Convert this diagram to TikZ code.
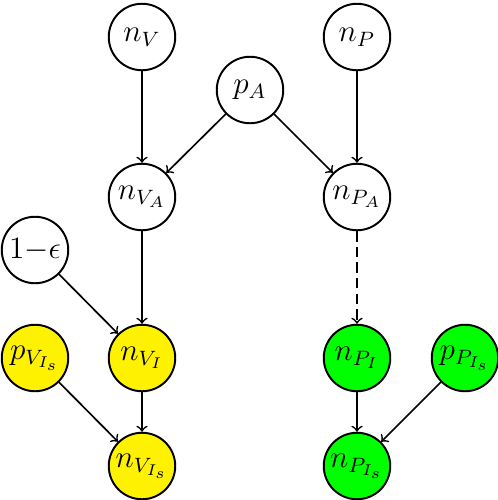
\documentclass[tikz,border=0pt]{standalone}
\begin{document}
\begin{tikzpicture}[x=0.385pt,y=-0.385pt,
  var/.style={circle,draw,line width=0.75pt,minimum size=25.6pt,inner sep=0pt,font=\large},
  yel/.style={var,fill=yellow},
  grn/.style={var,fill=green},
  edge/.style={->,line width=0.65pt}]
\useasboundingbox (0,0) rectangle (498,500);
\node[var] (nV) at (142,37) {$n_V$};
\node[var] (nP) at (357,37) {$n_P$};
\node[var] (pA) at (250,90) {$p_A$};
\node[var] (nVA) at (142,197) {$n_{V_A}$};
\node[var] (nPA) at (357,197) {$n_{P_A}$};
\node[var] (eps) at (35,250) {$1{-}\epsilon$};
\node[yel] (nVI) at (142,358) {$n_{V_I}$};
\node[yel] (pVIs) at (35,358) {$p_{V_{I_s}}$};
\node[grn] (nPI) at (357,358) {$n_{P_I}$};
\node[grn] (pPIs) at (465,358) {$p_{P_{I_s}}$};
\node[yel] (nVIs) at (142,466) {$n_{V_{I_s}}$};
\node[grn] (nPIs) at (357,466) {$n_{P_{I_s}}$};
\draw[edge] (nV) -- (nVA);
\draw[edge] (pA) -- (nVA);
\draw[edge] (pA) -- (nPA);
\draw[edge] (nP) -- (nPA);
\draw[edge] (nVA) -- (nVI);
\draw[edge] (eps) -- (nVI);
\draw[edge,dash pattern=on 4pt off 2pt] (nPA) -- (nPI);
\draw[edge] (nVI) -- (nVIs);
\draw[edge] (pVIs) -- (nVIs);
\draw[edge] (nPI) -- (nPIs);
\draw[edge] (pPIs) -- (nPIs);
\end{tikzpicture}
\end{document}
